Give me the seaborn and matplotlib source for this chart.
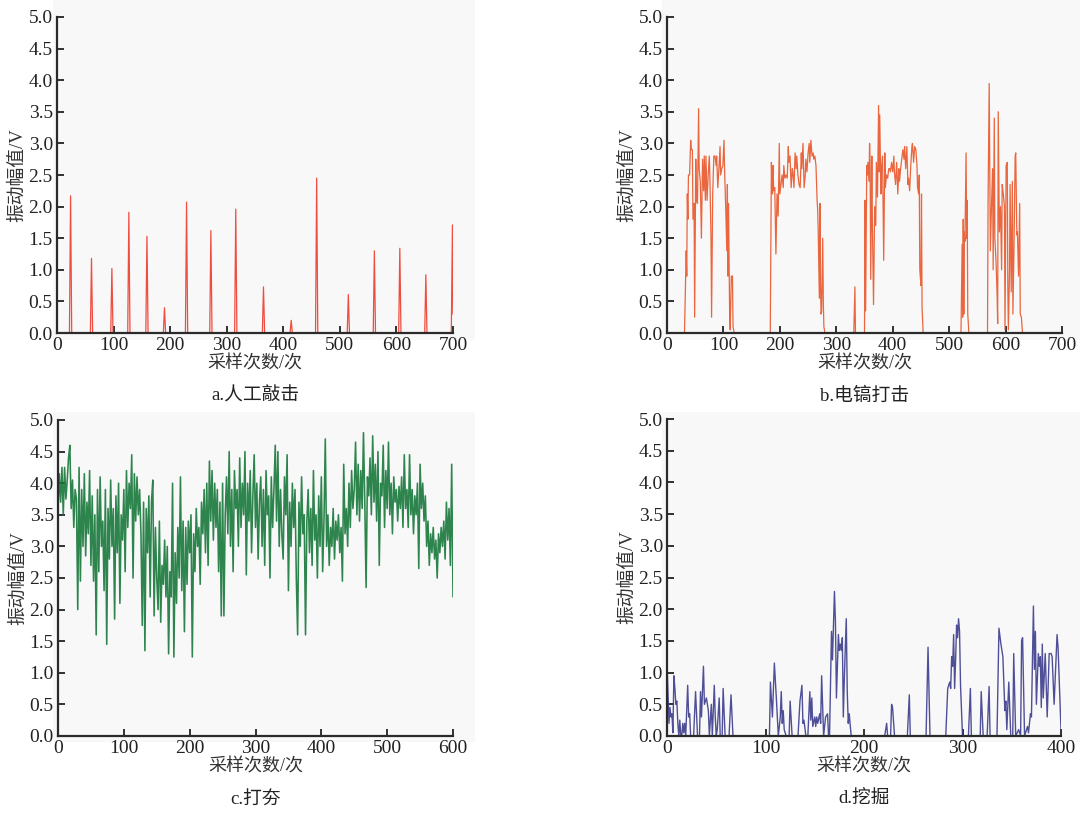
import matplotlib
matplotlib.use("Agg")
import matplotlib.pyplot as plt
from matplotlib.patches import Rectangle
import numpy as np
import pandas as pd
import seaborn as sns

# a. 人工敲击: isolated knocks (sample index, peak amplitude)
knock_pos = [24, 61, 97, 127, 159, 190, 229, 272, 316, 365, 414, 459, 515, 561, 606, 652, 699]
knock_peak = [2.17, 1.18, 1.02, 1.91, 1.53, 0.40, 2.07, 1.62, 1.96, 0.73, 0.20, 2.45, 0.61, 1.30, 1.34, 0.92, 1.71]

# b. 电镐打击: breakpoints
pick_x = [0, 31, 34, 35, 36, 37, 38, 40, 42, 43, 45, 46, 48, 49, 51, 52, 54, 56, 57, 59, 61, 63, 65, 66, 68, 69,
          71, 73, 75, 76, 78, 79, 81, 83, 85, 87, 88, 90, 92, 94, 95, 97, 99, 101, 102, 104, 106, 107, 108, 109,
          111, 112, 114, 116, 117, 119,
          183, 185, 186, 187, 188, 189, 191, 193, 195, 197, 199, 200, 202, 204, 206, 207, 209, 211, 213, 215, 216,
          218, 220, 222, 223, 225, 227, 229, 230, 232, 234, 236, 238, 239, 241, 243, 245, 246, 248, 250, 252, 253,
          255, 257, 259, 260, 262, 264, 266, 267, 268, 270, 271, 272, 273, 274, 276, 277, 278, 280,
          331, 333, 334,
          350, 351, 352, 354, 355, 356, 358, 359, 360, 361, 363, 364, 366, 368, 370, 371, 373, 375, 376, 377, 379,
          380, 382, 384, 386, 387, 389, 391, 393, 395, 396, 398, 400, 402, 403, 405, 407, 409, 411, 412, 414, 416,
          418, 420, 421, 423, 425, 427, 428, 430, 432, 434, 435, 437, 439, 441, 443, 444, 446, 447, 448, 450, 451,
          452, 454,
          521, 523, 524, 525, 526, 527, 528, 530, 531, 532, 533, 535,
          568, 569, 571, 573, 575, 577, 578, 580, 581, 583, 585, 586, 587, 589, 591, 593, 594, 596, 597, 598, 599,
          601, 603, 604, 605, 607, 608, 610, 612, 613, 615, 617, 618, 620, 621, 623, 625, 626, 628, 630, 700]
pick_y = [0, 0, 1.3, 0.9, 2.2, 1.8, 2.5, 2.5, 3.05, 2.9, 2.9, 1.8, 2.05, 0.25, 2.75, 2.1, 2.05, 3.55, 2.6, 2.4,
          1.5, 2.75, 2.25, 2.8, 2.1, 2.8, 2.1, 2.5, 2.8, 2.45, 1.5, 0.25, 2.2, 2.8, 2.8, 2.65, 2.8, 2.3, 2.6, 2.95,
          2.5, 2.6, 2.65, 3.05, 2.6, 2.0, 1.3, 2.35, 0.9, 2.05, 0.3, 0.05, 0.9, 0.9, 0.1, 0,
          0, 2.7, 2.3, 2.2, 2.65, 2.25, 2.3, 1.25, 2.2, 1.85, 3.0, 2.2, 2.35, 2.5, 2.3, 2.65, 2.45, 2.5, 2.45, 2.95,
          2.7, 2.8, 2.3, 2.6, 2.55, 2.3, 2.85, 2.6, 2.8, 2.5, 2.35, 2.3, 2.85, 2.6, 3.0, 2.3, 2.5, 2.75, 2.55, 2.85,
          3.0, 2.7, 3.05, 2.8, 2.85, 2.75, 2.8, 2.65, 2.1, 1.95, 1.6, 0.55, 2.05, 0.8, 0.3, 0.35, 1.5, 0.5, 0.1, 0,
          0, 0.73, 0,
          0, 2.1, 0.35, 2.65, 2.5, 2.7, 2.4, 3.0, 2.65, 0.85, 2.8, 1.7, 0.45, 2.0, 1.7, 2.7, 2.15, 3.6, 2.55, 3.45,
          2.2, 2.6, 2.8, 1.15, 2.85, 2.3, 2.5, 2.45, 2.6, 2.6, 2.55, 2.7, 2.55, 2.8, 2.55, 2.35, 2.7, 2.2, 2.6, 2.4,
          2.6, 2.75, 2.9, 2.75, 2.95, 2.6, 2.95, 2.35, 2.45, 2.25, 2.65, 2.95, 3.0, 2.7, 2.95, 2.9, 2.65, 2.3, 2.2,
          2.5, 1.0, 0.75, 2.2, 0.4, 0,
          0, 1.4, 0.25, 1.8, 0.3, 1.6, 1.45, 2.85, 1.5, 2.1, 0.3, 0,
          0, 2.1, 3.95, 1.3, 2.0, 2.6, 1.0, 3.4, 1.5, 1.15, 0.6, 0.15, 3.5, 1.6, 2.0, 1.0, 2.35, 2.2, 2.1, 2.0, 0.05,
          2.65, 2.7, 0.7, 0.05, 1.0, 2.35, 0.65, 2.4, 0.3, 1.4, 2.8, 2.85, 1.55, 1.6, 0.9, 2.05, 0.3, 0.25, 0, 0]

# c. 打夯: one value every 2 samples, x = 0..600
tamp_y = [3.6, 4.15, 3.7, 4.25, 3.5, 4.25, 3.75, 4.05, 4.4, 4.6,
          3.6, 4.05, 3.3, 3.9, 3.75, 2.0, 4.25, 2.45, 3.9, 3.0,
          4.15, 2.85, 3.7, 3.2, 4.2, 2.7, 3.8, 2.45, 3.5, 1.6,
          3.9, 2.6, 4.1, 3.0, 3.4, 2.3, 3.9, 1.45, 3.6, 2.8,
          4.05, 3.0, 3.6, 1.85, 3.8, 2.9, 4.0, 2.1, 3.5, 3.1,
          3.9, 2.6, 4.2, 3.3, 4.0, 3.6, 4.45, 2.5, 4.15, 3.4,
          4.1, 3.5, 3.9, 3.2, 1.75, 3.7, 1.35, 3.6, 2.9, 3.8,
          2.2, 3.7, 4.05, 1.9, 3.3, 2.5, 2.0, 3.4, 1.8, 2.7,
          2.4, 3.1, 2.2, 3.0, 1.3, 2.6, 2.2, 4.0, 1.25, 2.9,
          2.1, 3.3, 2.5, 4.1, 2.3, 3.4, 1.65, 3.3, 2.4, 3.4,
          2.9, 3.5, 1.25, 3.2, 2.6, 3.6, 3.0, 3.3, 2.4, 3.7,
          3.2, 3.9, 2.9, 4.0, 2.7, 4.35, 3.4, 4.2, 3.1, 4.0,
          3.3, 3.9, 2.6, 3.7, 1.9, 4.0, 1.9, 3.5, 4.1, 3.2,
          4.5, 3.0, 3.9, 2.6, 4.2, 3.6, 3.9, 3.0, 4.4, 3.3,
          4.0, 3.5, 4.5, 2.55, 4.0, 3.4, 4.2, 2.9, 3.8, 4.45,
          3.3, 4.0, 2.8, 3.7, 4.1, 3.0, 3.9, 2.7, 4.2, 3.5,
          3.8, 2.5, 4.1, 3.3, 3.9, 4.6, 3.4, 4.5, 3.0, 3.9,
          3.2, 2.8, 4.1, 3.5, 4.45, 2.3, 3.7, 3.0, 4.0, 3.3,
          3.9, 2.5, 1.6, 3.7, 3.0, 4.1, 3.2, 3.5, 1.6, 3.4,
          3.9, 2.9, 3.6, 2.7, 4.2, 3.1, 3.5, 2.5, 3.8, 3.0,
          4.1, 2.6, 3.4, 4.7, 3.0, 3.5, 2.7, 3.3, 3.0, 3.6,
          2.8, 3.4, 3.1, 3.5, 2.9, 3.3, 2.45, 4.3, 3.2, 3.6,
          3.0, 4.0, 3.3, 4.2, 3.6, 3.9, 4.65, 3.5, 4.3, 3.4,
          4.2, 3.6, 4.8, 3.7, 2.35, 4.1, 3.8, 4.4, 3.5, 4.75,
          3.7, 4.3, 3.4, 4.5, 2.7, 4.0, 3.8, 4.6, 3.3, 4.2,
          3.6, 4.65, 3.5, 4.0, 3.2, 4.1, 3.7, 3.9, 3.4, 3.95,
          3.6, 4.1, 3.3, 4.45, 3.6, 3.9, 3.3, 4.45, 3.5, 3.9,
          3.2, 3.8, 3.5, 4.0, 2.65, 4.3, 3.6, 4.0, 3.4, 3.8,
          3.0, 3.4, 2.7, 3.2, 2.9, 3.3, 2.8, 3.1, 2.5, 3.2,
          2.9, 3.3, 3.0, 3.4, 2.8, 3.7, 3.1, 3.6, 2.7, 4.3,
          2.2]

# d. 挖掘: breakpoints
dig_x = [0, 1, 2, 3, 4, 5, 6, 7, 8, 9, 10, 11, 12, 13, 14, 15, 16, 17, 18, 19, 21, 22, 23, 24, 27, 29, 31, 33, 34,
         35, 37, 38, 40, 42, 43, 45, 46, 48, 49, 50, 51, 53, 54, 56, 57, 59, 63, 65, 67,
         104, 105, 107, 109, 111, 113, 115, 116, 117, 118, 119, 121, 124, 125, 127, 133, 135, 137, 138, 139, 141,
         143, 145, 146, 147, 148, 150, 151, 152, 153, 155, 156, 157, 159, 161, 163, 164, 165, 167, 168, 170, 171,
         172, 174, 175, 176, 177, 178, 179, 180, 182, 183, 184, 185, 187,
         221, 223, 224, 227, 228, 229, 231, 244, 246, 247, 263, 265, 267, 283, 285, 287, 288, 289, 290, 291, 292,
         293, 294, 295, 296, 297, 298, 300, 306, 308, 309, 318, 319, 321, 325, 327, 328, 335, 337, 339, 341, 343,
         344, 345, 347, 349, 351, 352, 354, 357, 359, 360, 361, 363, 366, 367, 369, 370, 372, 373, 374, 375, 377,
         378, 379, 380, 381, 382, 384, 386, 388, 390, 391, 393, 396, 397, 400]
dig_y = [1.15, 0.7, 0.2, 0.45, 0.3, 0.35, 0.05, 0.95, 0.75, 0.5, 0.55, 0.2, 0, 0.25, 0, 0, 0.2, 0.05, 0.2, 0, 0.8,
         0.3, 0.35, 0, 0, 0.7, 0, 0, 0.7, 0.3, 1.1, 0.5, 0.6, 0.4, 0, 0.5, 0, 0.8, 0.3, 0, 0.1, 0.6, 0, 0, 0.75, 0,
         0, 0.65, 0,
         0, 0.85, 0.3, 1.15, 0.6, 0, 0.3, 0.7, 0.2, 0.4, 0.1, 0, 0, 0.55, 0, 0, 0.55, 0.8, 0.2, 0.25, 0, 0, 0.7,
         0.25, 0.6, 0.15, 0.3, 0.15, 0.3, 0.2, 0.35, 0.2, 0.95, 0, 0.3, 0.35, 0, 0, 1.65, 1.2, 2.28, 1.8, 0.6, 1.6,
         1.35, 1.45, 1.35, 1.55, 0.3, 0.9, 1.85, 0.7, 0.2, 0.35, 0,
         0, 0.2, 0, 0, 0.5, 0.45, 0, 0, 0.65, 0, 0, 1.4, 0, 0, 0.75, 0.85, 0.75, 1.25, 1.1, 1.6, 0.75, 1.2, 1.75,
         1.55, 1.85, 1.65, 0.8, 0, 0, 0.75, 0, 0, 0.7, 0, 0, 0.78, 0, 0, 1.7, 1.45, 1.25, 0.4, 0.55, 0.1, 0.85, 0,
         0, 1.3, 0, 0.1, 0, 1.5, 1.55, 0, 0.15, 0.05, 0.35, 0.3, 2.05, 1.05, 1.65, 0.5, 1.3, 1.1, 1.25, 0.45, 1.45,
         0.6, 1.3, 0.3, 1.3, 1.3, 1.25, 0.5, 1.6, 1.4, 0.1]

# knocks -> narrow triangles (x, y) for the line
knock_x, knock_y = [0], [0]
for p, h in zip(knock_pos, knock_peak):
    knock_x += [p - 2, p, min(p + 2, 700)]
    knock_y += [0, h, 0 if p < 698 else 0.3]
if knock_x[-1] < 700:
    knock_x.append(700)
    knock_y.append(0)

tamp_x = np.arange(0, 601, 2)

sns.set_style("ticks")
plt.rcParams["font.family"] = ["Liberation Serif", "Noto Sans CJK SC"]
plt.rcParams["axes.unicode_minus"] = False

fig = plt.figure(figsize=(10.8, 8.13), dpi=100)
fig.patch.set_facecolor("white")

W, H = 1080, 813
bg = "#f8f8f8"
# light panel backgrounds (pixel boxes), kept behind the axes
for (x0, y0, x1, y1) in [(53, 0, 475, 340), (662, 0, 1080, 340), (53, 412, 475, 742), (662, 412, 1080, 742)]:
    fig.patches.append(Rectangle((x0 / W, 1 - y1 / H), (x1 - x0) / W, (y1 - y0) / H,
                                 transform=fig.transFigure, facecolor=bg, edgecolor="none", zorder=-5))

panels = [
    dict(box=(57, 17, 453, 333), x=knock_x, y=knock_y, color="#ee3a2c", lw=0.9, xmax=700, cap="a.人工敲击"),
    dict(box=(667, 17, 1062, 333), x=pick_x, y=pick_y, color="#e8562a", lw=0.9, xmax=700, cap="b.电镐打击"),
    dict(box=(58, 420, 453, 736), x=tamp_x, y=tamp_y, color="#17773a", lw=1.15, xmax=600, cap="c.打夯"),
    dict(box=(667, 419, 1061, 736), x=dig_x, y=dig_y, color="#3d3d8e", lw=1.0, xmax=400, cap="d.挖掘"),
]

for p in panels:
    x0, y0, x1, y1 = p["box"]
    ax = fig.add_axes([x0 / W, 1 - y1 / H, (x1 - x0) / W, (y1 - y0) / H])
    ax.set_zorder(1)
    ax.set_facecolor(bg)
    df = pd.DataFrame({"x": p["x"], "y": p["y"]})
    sns.lineplot(data=df, x="x", y="y", ax=ax, color=p["color"], linewidth=p["lw"],
                 estimator=None, sort=False, alpha=0.9)
    ax.set_xlim(0, p["xmax"])
    ax.set_ylim(0, 5)
    ax.set_xticks(np.arange(0, p["xmax"] + 1, 100))
    ax.set_yticks(np.arange(0, 5.01, 0.5))
    ax.set_yticklabels([f"{v:.1f}" for v in np.arange(0, 5.01, 0.5)])
    ax.tick_params(direction="in", length=5, width=1.3, labelsize=14, pad=3, colors="#222222")
    for side in ["right", "top"]:
        ax.spines[side].set_visible(False)
    for side in ["left", "bottom"]:
        ax.spines[side].set_linewidth(1.6)
        ax.spines[side].set_color("#2a2a2a")
    ax.set_xlabel("采样次数/次", fontsize=13, color="#333333", labelpad=1)
    ax.set_ylabel("振动幅值/V", fontsize=13.5, color="#333333", labelpad=2)
    ax.text(0.5, -0.2, p["cap"], transform=ax.transAxes, ha="center", va="center",
            fontsize=13.5, color="#222222")

fig.savefig("out.png", dpi=100, facecolor="white")
